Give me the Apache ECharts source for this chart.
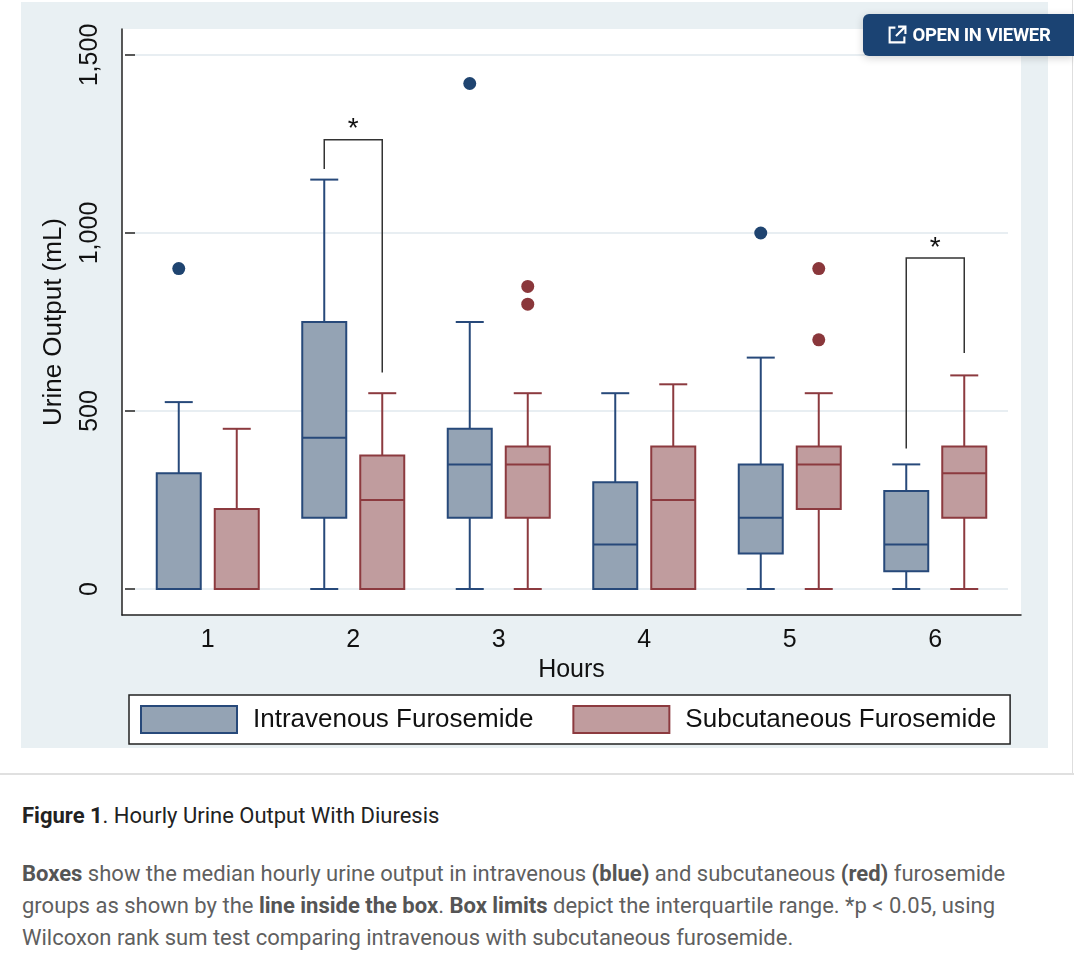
<!DOCTYPE html>
<html>
<head>
<meta charset="utf-8" />
<script src="https://cdn.jsdelivr.net/npm/echarts@6/dist/echarts.min.js"></script>
<style>
  body { margin: 0; background: #fff; width: 1074px; height: 970px; position: relative; overflow: hidden; }
  #panel { position: absolute; left: 21px; top: 2px; width: 1027px; height: 746px; background: #e9f0f3; }
  #chart { position: absolute; left: 0; top: 0; width: 1074px; height: 760px; }
  #vline { position: absolute; left: 1072px; top: 0; width: 1px; height: 775px; background: #dedede; }
  #rule { position: absolute; left: 0; top: 773px; width: 1074px; height: 2px; background: #e0e0e0; }
  #viewer {
    position: absolute; left: 863px; top: 14px; width: 211px; height: 42px;
    background: #1b4373; border-radius: 6px 0 0 6px; color: #fff;
    font: bold 18.5px Roboto, sans-serif; letter-spacing: -0.3px;
    display: flex; align-items: center; justify-content: center; gap: 6px;
    box-shadow: 0 2px 8px rgba(0,0,0,0.18);
  }
  #caption { position: absolute; left: 22px; top: 800px; width: 1045px; font-family: Roboto, sans-serif; }
  #caption .title { font-size: 22px; color: #222; line-height: 32px; }
  #caption .text { margin-top: 26px; font-size: 22px; color: #5f5f5f; line-height: 32px; }
  #caption b { font-weight: bold; }
  #caption .text b { color: #555; }
</style>
</head>
<body>
<div id="panel"></div>
<div id="chart"></div>
<div id="vline"></div>
<div id="viewer">
  <svg width="20" height="20" viewBox="0 0 19 19"><path d="M8 2.5H2.5v14h14V11" fill="none" stroke="#fff" stroke-width="2"/><path d="M10.5 1.5h7v7M17.5 1.5l-9 9" fill="none" stroke="#fff" stroke-width="2"/></svg>
  <span>OPEN IN VIEWER</span>
</div>
<div id="rule"></div>
<div id="caption">
  <div class="title"><b>Figure 1</b>. Hourly Urine Output With Diuresis</div>
  <div class="text"><b>Boxes</b> show the median hourly urine output in intravenous <b>(blue)</b> and subcutaneous <b>(red)</b> furosemide<br>groups as shown by the <b>line inside the box</b>. <b>Box limits</b> depict the interquartile range. *p &lt; 0.05, using<br>Wilcoxon rank sum test comparing intravenous with subcutaneous furosemide.</div>
</div>
<script>
  // Data
  var hours = ['1', '2', '3', '4', '5', '6'];
  var yTicks = { min: 0, max: 1500, step: 500 };

  // [min, q1, median, q3, max] for each hour
  var ivBoxes = [[0, 0, 0, 325, 525], [0, 200, 425, 750, 1150], [0, 200, 350, 450, 750],
                 [0, 0, 125, 300, 550], [0, 100, 200, 350, 650], [0, 50, 125, 275, 350]];
  var scBoxes = [[0, 0, 0, 225, 450], [0, 0, 250, 375, 550], [0, 200, 350, 400, 550],
                 [0, 0, 250, 400, 575], [0, 225, 350, 400, 550], [0, 200, 325, 400, 600]];

  // [hour index, value]
  var ivOutliers = [[0, 900], [2, 1420], [4, 1000]];
  var scOutliers = [[2, 850], [2, 800], [4, 900], [4, 700]];

  // [hour index, bracket top, left leg end, right leg end]
  var brackets = [[1, 1262, 1180, 608], [5, 930, 395, 663]];

  var ivName = 'Intravenous Furosemide', scName = 'Subcutaneous Furosemide';
  var ivFill = '#94a3b4', ivLine = '#27497a';
  var scFill = '#c09c9e', scLine = '#8c3a3f';
  var pairOffset = 29, boxW = 44, capW = 28;
  var font = '"Liberation Sans", Arial, sans-serif';

  function boxRenderer(offset, fill, stroke) {
    return function (params, api) {
      var c = api.value(0);
      var x = api.coord([c, 0])[0] + offset;
      var y = [1, 2, 3, 4, 5].map(function (i) { return api.coord([c, api.value(i)])[1]; });
      var ls = { stroke: stroke, lineWidth: 2 };
      return {
        type: 'group',
        children: [
          { type: 'line', shape: { x1: x, y1: y[3], x2: x, y2: y[4] }, style: ls },
          { type: 'line', shape: { x1: x, y1: y[1], x2: x, y2: y[0] }, style: ls },
          { type: 'line', shape: { x1: x - capW / 2, y1: y[4], x2: x + capW / 2, y2: y[4] }, style: ls },
          { type: 'line', shape: { x1: x - capW / 2, y1: y[0], x2: x + capW / 2, y2: y[0] }, style: ls },
          { type: 'rect', shape: { x: x - boxW / 2, y: y[3], width: boxW, height: y[1] - y[3] },
            style: { fill: fill, stroke: stroke, lineWidth: 2 } },
          { type: 'line', shape: { x1: x - boxW / 2, y1: y[2], x2: x + boxW / 2, y2: y[2] }, style: ls }
        ]
      };
    };
  }

  function bracketRenderer(params, api) {
    var c = api.value(0);
    var cx = api.coord([c, 0])[0];
    var top = api.coord([c, api.value(1)])[1];
    var l = api.coord([c, api.value(2)])[1];
    var r = api.coord([c, api.value(3)])[1];
    return {
      type: 'group',
      children: [
        { type: 'polyline',
          shape: { points: [[cx - pairOffset, l], [cx - pairOffset, top], [cx + pairOffset, top], [cx + pairOffset, r]] },
          style: { stroke: '#333', lineWidth: 1.5, fill: null } },
        { type: 'text', x: cx, y: top - 24,
          style: { text: '*', fill: '#111', font: '28px ' + font, textAlign: 'center', textVerticalAlign: 'top' } }
      ]
    };
  }

  function withIndex(rows) {
    return rows.map(function (r, i) { return [i].concat(r); });
  }

  var chart = echarts.init(document.getElementById('chart'));

  var option = {
    animation: false,
    textStyle: { fontFamily: font },
    grid: [
      { left: 122, top: 29, width: 899, height: 586, show: true, backgroundColor: '#fff', borderWidth: 0 },
      { left: 135, top: 55, width: 873, height: 534 }
    ],
    legend: {
      left: 129, top: 695,
      padding: [10, 14, 10, 11],
      backgroundColor: '#fff', borderColor: '#222', borderWidth: 1.5,
      itemWidth: 96, itemHeight: 27, itemGap: 39,
      selectedMode: false,
      textStyle: { fontSize: 26, color: '#111', fontFamily: font, padding: [0, 0, 0, 11] },
      data: [
        { name: ivName, icon: 'rect', itemStyle: { color: ivFill, borderColor: ivLine, borderWidth: 2 } },
        { name: scName, icon: 'rect', itemStyle: { color: scFill, borderColor: scLine, borderWidth: 2 } }
      ]
    },
    xAxis: [
      { gridIndex: 0, type: 'value', min: 0, max: 1,
        axisLine: { show: true, onZero: false, lineStyle: { color: '#222', width: 1.5 } },
        axisTick: { show: false }, axisLabel: { show: false }, splitLine: { show: false } },
      { gridIndex: 1, type: 'category', data: hours, offset: 26,
        axisLine: { show: false }, axisTick: { show: false },
        axisLabel: { fontSize: 25, color: '#111', margin: 13, fontFamily: font },
        name: 'Hours', nameLocation: 'middle', nameGap: 42,
        nameTextStyle: { fontSize: 25, color: '#111', fontFamily: font } }
    ],
    yAxis: [
      { gridIndex: 0, type: 'value', min: 0, max: 1,
        axisLine: { show: true, onZero: false, lineStyle: { color: '#222', width: 1.5 } },
        axisTick: { show: false }, axisLabel: { show: false }, splitLine: { show: false } },
      { gridIndex: 1, type: 'value', min: yTicks.min, max: yTicks.max, interval: yTicks.step,
        axisLine: { show: false },
        axisTick: { show: true, length: 10, lineStyle: { color: '#222', width: 1.5 } },
        axisLabel: { rotate: 90, fontSize: 25, color: '#111', margin: 32, fontFamily: font,
          formatter: function (v) { return v.toLocaleString('en-US'); } },
        splitLine: { show: true, lineStyle: { color: '#e8eef2', width: 2 } },
        name: 'Urine Output (mL)', nameLocation: 'middle', nameRotate: 90, nameGap: 68,
        nameTextStyle: { fontSize: 26, color: '#111', fontFamily: font } }
    ],
    series: [
      { name: ivName, type: 'custom', xAxisIndex: 1, yAxisIndex: 1,
        itemStyle: { color: ivFill }, renderItem: boxRenderer(-pairOffset, ivFill, ivLine),
        encode: { x: 0, y: [1, 2, 3, 4, 5] }, data: withIndex(ivBoxes) },
      { name: scName, type: 'custom', xAxisIndex: 1, yAxisIndex: 1,
        itemStyle: { color: scFill }, renderItem: boxRenderer(pairOffset, scFill, scLine),
        encode: { x: 0, y: [1, 2, 3, 4, 5] }, data: withIndex(scBoxes) },
      { name: ivName, type: 'scatter', xAxisIndex: 1, yAxisIndex: 1,
        symbolSize: 13, symbolOffset: [-pairOffset, 0], itemStyle: { color: '#1f4470', opacity: 1 },
        data: ivOutliers },
      { name: scName, type: 'scatter', xAxisIndex: 1, yAxisIndex: 1,
        symbolSize: 13, symbolOffset: [pairOffset, 0], itemStyle: { color: '#8a373b', opacity: 1 },
        data: scOutliers },
      { name: 'brackets', type: 'custom', xAxisIndex: 1, yAxisIndex: 1,
        renderItem: bracketRenderer, encode: { x: 0, y: [1, 2, 3] }, data: brackets }
    ]
  };

  chart.setOption(option);
</script>
</body>
</html>
